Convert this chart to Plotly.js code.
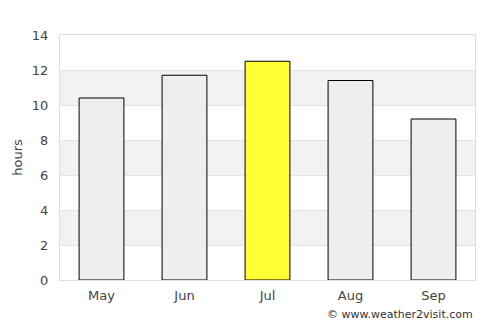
<!DOCTYPE html>
<html><head><meta charset="utf-8">
<script src="https://cdn.plot.ly/plotly-3.0.1.min.js"></script>
<style>html,body{margin:0;padding:0;background:#fff}#c{width:500px;height:325px}</style>
</head><body><div id="c"></div>
<script>
var months = ["May", "Jun", "Jul", "Aug", "Sep"];
var hours = [10.4, 11.7, 12.5, 11.4, 9.2];
var barColors = ["#eeeeee", "#eeeeee", "#ffff33", "#eeeeee", "#eeeeee"];
var yTicks = [0, 2, 4, 6, 8, 10, 12, 14];
var bands = [[2, 4], [6, 8], [10, 12]];

var shapes = bands.map(function (b) {
  return {type: "rect", xref: "paper", yref: "y", x0: 0, x1: 1, y0: b[0], y1: b[1],
    fillcolor: "#f2f2f2", line: {width: 0}, layer: "below"};
});

Plotly.newPlot("c", [{
  type: "bar", x: months, y: hours,
  marker: {color: barColors, line: {color: "#000000", width: 1}},
  width: 0.54, hoverinfo: "none"
}], {
  width: 500, height: 325,
  margin: {l: 60, r: 25, t: 35, b: 45},
  paper_bgcolor: "#ffffff", plot_bgcolor: "rgba(0,0,0,0)",
  font: {family: "DejaVu Sans", size: 13, color: "#444444"},
  showlegend: false,
  shapes: shapes,
  xaxis: {showgrid: false, showline: true, linecolor: "#dddddd", mirror: true, linewidth: 1,
    ticks: "", ticklabelstandoff: 3, tickfont: {size: 13, color: "#444444"}, fixedrange: true},
  yaxis: {range: [0, 14], tickvals: yTicks, showgrid: true, gridcolor: "#e3e3e3",
    showline: true, linecolor: "#dddddd", mirror: true, linewidth: 1, zeroline: false,
    ticks: "", ticklabelstandoff: 8,
    title: {text: "hours", font: {size: 13, color: "#444444"}, standoff: 6},
    tickfont: {size: 13, color: "#444444"}},
  annotations: [{text: "© www.weather2visit.com", xref: "paper", yref: "paper",
    x: 1, y: 0, yshift: -26, xanchor: "right", yanchor: "top", showarrow: false,
    font: {size: 11, color: "#333333"}}]
}, {staticPlot: true});
</script></body></html>
